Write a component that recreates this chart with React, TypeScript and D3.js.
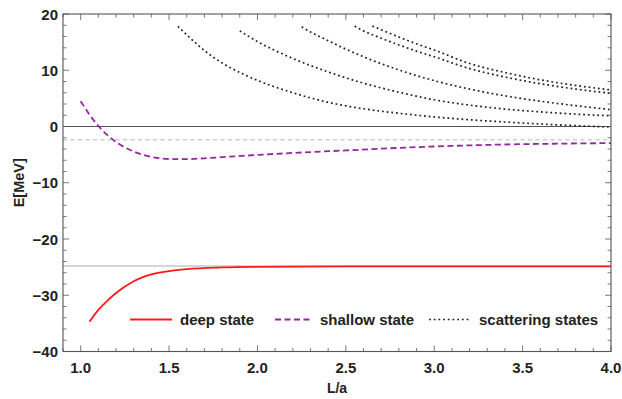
import React from 'react';
import * as d3 from 'd3';

// values
const deepL = [1.05, 1.1, 1.15, 1.2, 1.3, 1.4, 1.5, 1.6, 1.8, 2.0, 2.5, 3.0, 3.5, 4.0];
const deepE = [-34.7, -32.6, -31.0, -29.6, -27.5, -26.3, -25.7, -25.35, -25.05, -24.95, -24.88, -24.86, -24.85, -24.85];

const shallowL = [1.0, 1.05, 1.1, 1.15, 1.2, 1.3, 1.4, 1.5, 1.6, 1.7, 1.8, 2.0, 2.2, 2.5, 2.8, 3.1, 3.4, 3.7, 4.0];
const shallowE = [4.5, 2.1, 0.1, -1.5, -2.75, -4.45, -5.4, -5.78, -5.8, -5.65, -5.45, -5.05, -4.7, -4.25, -3.8, -3.45, -3.2, -3.05, -2.95];

const scat1L = [1.55, 1.6, 1.7, 1.8, 1.9, 2.0, 2.2, 2.4, 2.6, 2.8, 3.0, 3.2, 3.4, 3.6, 3.8, 4.0];
const scat1E = [17.8, 16.3, 13.5, 11.3, 9.6, 8.2, 6.0, 4.3, 3.15, 2.35, 1.7, 1.2, 0.8, 0.45, 0.15, -0.1];
const scat2L = [1.9, 2.0, 2.1, 2.2, 2.4, 2.6, 2.8, 3.0, 3.2, 3.4, 3.6, 3.8, 4.0];
const scat2E = [17.0, 15.1, 13.5, 12.1, 9.7, 7.7, 6.1, 4.75, 3.8, 3.1, 2.6, 2.2, 1.9];
const scat3L = [2.25, 2.3, 2.4, 2.5, 2.6, 2.8, 3.0, 3.2, 3.4, 3.6, 3.8, 4.0];
const scat3E = [17.7, 16.8, 15.25, 13.75, 12.4, 10.05, 8.15, 6.65, 5.45, 4.5, 3.7, 3.0];
const scat4L = [2.55, 2.6, 2.7, 2.8, 2.9, 3.0, 3.2, 3.4, 3.6, 3.8, 4.0];
const scat4E = [17.85, 17.0, 15.7, 14.5, 13.4, 12.4, 10.3, 8.8, 7.6, 6.65, 5.9];
const scat5L = [2.65, 2.7, 2.8, 2.9, 3.0, 3.2, 3.4, 3.6, 3.8, 4.0];
const scat5E = [17.85, 17.2, 15.9, 14.7, 13.6, 11.2, 9.6, 8.3, 7.3, 6.5];

const deepThreshold = -24.8;
const shallowThreshold = -2.35;

const xTicks = [1.0, 1.5, 2.0, 2.5, 3.0, 3.5, 4.0];
const yTicks = [-40, -30, -20, -10, 0, 10, 20];

const W = 622, H = 399;
const m = { left: 63, right: 11, top: 14, bottom: 47.5 };

export default function App() {
  const x = d3.scaleLinear().domain([0.9, 4.0]).range([m.left, W - m.right]);
  const y = d3.scaleLinear().domain([-40, 20]).range([H - m.bottom, m.top]);
  const line = d3.line<[number, number]>()
    .x(d => x(d[0])).y(d => y(d[1]))
    .curve(d3.curveMonotoneX);
  const pts = (L: number[], E: number[]) => L.map((l, i) => [l, E[i]] as [number, number]);

  const scattering = [[scat1L, scat1E], [scat2L, scat2E], [scat3L, scat3E], [scat4L, scat4E], [scat5L, scat5E]];

  const x0 = x.range()[0], x1 = x.range()[1];
  const y0 = y.range()[0], y1 = y.range()[1];
  const frame = '#555';
  const font = '"Liberation Sans", Arial, sans-serif';

  const xMinor = d3.range(0.9, 4.0001, 0.1).map(v => +v.toFixed(2));
  const yMinor = d3.range(-40, 20.001, 2);

  return (
    <svg width={W} height={H} style={{ position: 'absolute', left: 0, top: 0, background: '#fff' }}
      fontFamily={font} fontWeight="bold">
      <defs>
        <clipPath id="plot"><rect x={x0} y={y1} width={x1 - x0} height={y0 - y1} /></clipPath>
      </defs>

      {/* reference lines */}
      <g clipPath="url(#plot)">
        <line x1={x0} x2={x1} y1={y(0)} y2={y(0)} stroke="#555" strokeWidth={1.2} />
        <line x1={x0} x2={x1} y1={y(shallowThreshold)} y2={y(shallowThreshold)} stroke="#cfcfcf" strokeWidth={1.6} strokeDasharray="4,3.5" />
        <line x1={x0} x2={x1} y1={y(deepThreshold)} y2={y(deepThreshold)} stroke="#c8c8c8" strokeWidth={1.6} />

        {scattering.map(([L, E], i) => (
          <path key={i} d={line(pts(L, E)) || ''} fill="none" stroke="#222" strokeWidth={1.7} strokeDasharray="1.8,2.9" />
        ))}
        <path d={line(pts(shallowL, shallowE)) || ''} fill="none" stroke="#93279f" strokeWidth={1.8} strokeDasharray="6,3.5" />
        <path d={line(pts(deepL, deepE)) || ''} fill="none" stroke="#ff1a1a" strokeWidth={1.8} />
      </g>

      {/* frame */}
      <rect x={x0} y={y1} width={x1 - x0} height={y0 - y1} fill="none" stroke={frame} strokeWidth={1.1} />
      {xMinor.map(v => {
        const major = xTicks.some(t => Math.abs(t - v) < 1e-6);
        const len = major ? 6 : 3.5;
        return (
          <g key={'x' + v} stroke={frame} strokeWidth={0.8}>
            <line x1={x(v)} x2={x(v)} y1={y0} y2={y0 - len} />
            <line x1={x(v)} x2={x(v)} y1={y1} y2={y1 + len} />
          </g>
        );
      })}
      {yMinor.map(v => {
        const major = v % 10 === 0;
        const len = major ? 6 : 3.5;
        return (
          <g key={'y' + v} stroke={frame} strokeWidth={0.8}>
            <line x1={x0} x2={x0 + len} y1={y(v)} y2={y(v)} />
            <line x1={x1} x2={x1 - len} y1={y(v)} y2={y(v)} />
          </g>
        );
      })}

      {/* tick labels */}
      {xTicks.map(t => (
        <text key={'xl' + t} x={x(t)} y={y0 + 21} textAnchor="middle" fontSize={15} fill="#222">{t.toFixed(1)}</text>
      ))}
      {yTicks.map(t => (
        <text key={'yl' + t} x={x0 - 5} y={y(t) + 5.5} textAnchor="end" fontSize={15} fill="#222">{t < 0 ? '\u2212' + Math.abs(t) : t}</text>
      ))}

      {/* axis titles */}
      <text x={(x0 + x1) / 2} y={H - 6} textAnchor="middle" fontSize={14} fill="#222">L/a</text>
      <text transform={`translate(${24},${(y0 + y1) / 2}) rotate(-90)`} textAnchor="middle" fontSize={14.5} fill="#222">E[MeV]</text>

      {/* legend */}
      <g fontSize={15} fill="#222">
        <line x1={130} x2={172} y1={319.5} y2={319.5} stroke="#ff1a1a" strokeWidth={1.8} />
        <text x={180} y={324.5}>deep state</text>
        <line x1={275} x2={312} y1={319.5} y2={319.5} stroke="#93279f" strokeWidth={1.8} strokeDasharray="6,3.5" />
        <text x={320} y={324.5}>shallow state</text>
        <line x1={429} x2={470} y1={319.5} y2={319.5} stroke="#222" strokeWidth={1.7} strokeDasharray="1.8,2.9" />
        <text x={479} y={324.5}>scattering states</text>
      </g>
    </svg>
  );
}
